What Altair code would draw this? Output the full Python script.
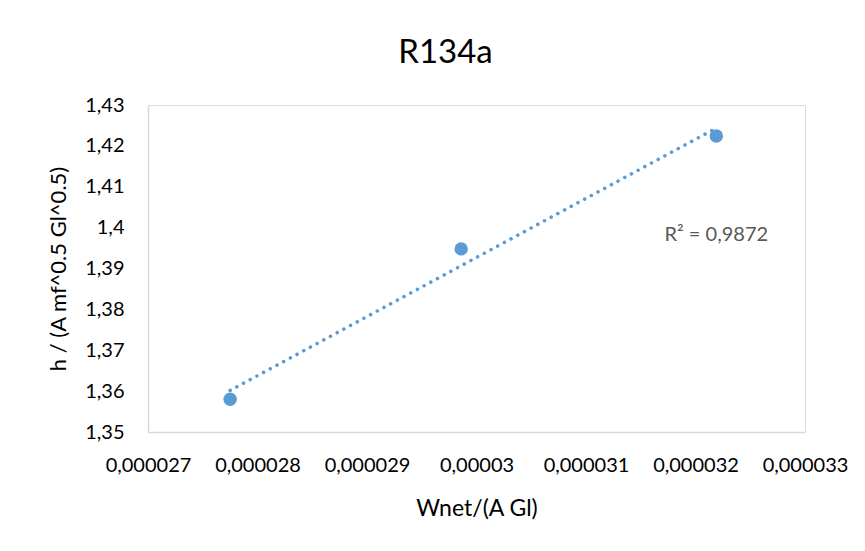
import altair as alt
import pandas as pd

# data
x_vals = [0.00002775, 0.00002986, 0.00003219]
y_vals = [1.3580, 1.3948, 1.4224]

x_ticks = [0.000027, 0.000028, 0.000029, 0.000030, 0.000031, 0.000032, 0.000033]
y_ticks = [1.35, 1.36, 1.37, 1.38, 1.39, 1.40, 1.41, 1.42, 1.43]

r2_text = ["R² = 0,9872"]
r2_x = [0.00003219]
r2_y = [1.3982]

df = pd.DataFrame({"x": x_vals, "y": y_vals})
ann = pd.DataFrame({"x": r2_x, "y": r2_y, "t": r2_text})

BLUE = "#5B9BD5"
FONT = "Lato"

x_enc = alt.X(
    "x:Q",
    scale=alt.Scale(domain=[x_ticks[0], x_ticks[-1]], nice=False, zero=False),
    axis=alt.Axis(
        values=x_ticks,
        title="Wnet/(A Gl)",
        labelExpr="replace(format(datum.value, '.6~f'), '.', ',')",
        labelOverlap=False,
        labelFlush=False,
        grid=False,
        ticks=False,
        domainColor="#D9D9D9",
        domainWidth=1.5,
        labelFont=FONT,
        labelFontSize=20,
        labelColor="#000000",
        labelPadding=23,
        titleFont=FONT,
        titleFontSize=23,
        titleFontWeight="normal",
        titleColor="#000000",
        titlePadding=22,
    ),
)
y_enc = alt.Y(
    "y:Q",
    scale=alt.Scale(domain=[y_ticks[0], y_ticks[-1]], nice=False, zero=False),
    axis=alt.Axis(
        values=y_ticks,
        title="h / (A mf^0.5 Gl^0.5)",
        labelExpr="replace(format(datum.value, '.2~f'), '.', ',')",
        labelOverlap=False,
        labelFlush=False,
        grid=False,
        ticks=False,
        domainColor="#D9D9D9",
        domainWidth=1.5,
        labelFont=FONT,
        labelFontSize=20,
        labelColor="#000000",
        labelPadding=24,
        titleFont=FONT,
        titleFontSize=22,
        titleFontWeight="normal",
        titleColor="#000000",
        titlePadding=14,
    ),
)

base = alt.Chart(df)

trend = base.transform_regression("x", "y").mark_line(
    color=BLUE, strokeWidth=3.5, strokeDash=[0.1, 7.5], strokeCap="round"
).encode(x=x_enc, y=y_enc)

points = base.mark_circle(color=BLUE, size=180, opacity=1).encode(x=x_enc, y=y_enc)

label = alt.Chart(ann).mark_text(
    font=FONT, fontSize=20, color="#595959", align="center", baseline="middle"
).encode(x=alt.X("x:Q"), y=alt.Y("y:Q"), text="t:N")

chart = (
    alt.layer(trend, points, label)
    .properties(
        width=657,
        height=327,
        autosize=alt.AutoSizeParams(type="none"),
        padding={"left": 140, "top": 97, "right": 50, "bottom": 100},
        title=alt.TitleParams(
            "R134a", font=FONT, fontSize=33, fontWeight="normal", color="#000000",
            anchor="middle", dx=-31, offset=25,
        ),
    )
    .configure_view(stroke=None)
    .configure(background="white")
)

chart.save("out.html", embed_options={"renderer": "svg", "actions": False})
